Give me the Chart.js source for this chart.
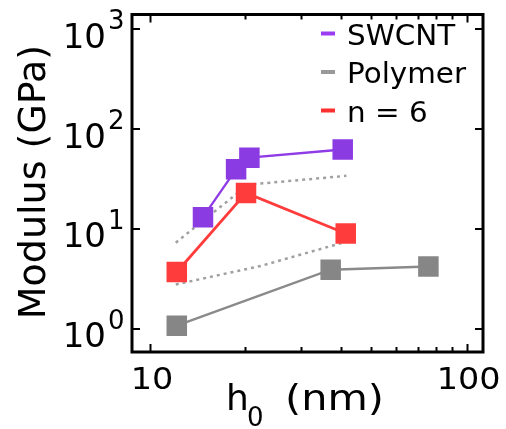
<!DOCTYPE html>
<html>
<head>
<meta charset="utf-8">
<script src="https://cdn.jsdelivr.net/npm/chart.js@4/dist/chart.umd.min.js"></script>
<style>
  html, body { margin: 0; padding: 0; background: #fff; }
  #wrap { width: 506px; height: 429px; }
</style>
</head>
<body>
<div id="wrap"><canvas id="modulusChart"></canvas></div>
<script>
// thickness h0 (nm) and modulus (GPa)
const swcntH = [14.7, 18.7, 20.6, 40.6];
const swcntE = [13.1, 39.5, 51.6, 62.4];
const polymerH = [12.15, 37.2, 75.7];
const polymerE = [1.07, 3.9, 4.2];
const n6H = [12.15, 20.1, 41.5];
const n6E = [3.69, 22.9, 8.98];
// dotted guide curves
const upperGuideH = [12.06, 20.4, 41.7];
const upperGuideE = [7.27, 27.7, 34.0];
const lowerGuideH = [12.06, 22.4, 40.6];
const lowerGuideE = [2.77, 4.25, 7.26];

const xTicks = [10, 20, 30, 40, 50, 60, 70, 80, 90, 100];
const xTickLabels = { 10: '10', 100: '100' };
const yTicks = [1, 10, 100, 1000];
const yTickExp = ['0', '1', '2', '3'];

const legendItems = [
  { text: 'SWCNT', color: '#9b3cf0' },
  { text: 'Polymer', color: '#999999' },
  { text: 'n = 6', color: '#ff2f2f' }
];

const toPoints = (xs, ys) => xs.map((x, i) => ({ x: x, y: ys[i] }));

const FONT = '"DejaVu Sans", sans-serif';

function drawText(ctx, text, x, y, size, sx) {
  ctx.save();
  ctx.translate(x, y);
  ctx.scale(sx || 1, 1);
  ctx.font = size + 'px ' + FONT;
  ctx.fillText(text, 0, 0);
  ctx.restore();
}

// frame, inward ticks, labels, titles and legend
const framePlugin = {
  id: 'framePlugin',
  afterDraw(chart) {
    const ctx = chart.ctx;
    const a = chart.chartArea;
    const xs = chart.scales.x;
    const ys = chart.scales.y;
    ctx.save();
    ctx.strokeStyle = '#000';
    ctx.fillStyle = '#000';
    ctx.lineWidth = 2;
    ctx.beginPath();
    xTicks.forEach(v => {
      const px = Math.round(xs.getPixelForValue(v)) + 0.5;
      const len = xTickLabels[v] ? 8 : 5;
      ctx.moveTo(px, a.bottom); ctx.lineTo(px, a.bottom - len);
      ctx.moveTo(px, a.top); ctx.lineTo(px, a.top + len);
    });
    yTicks.forEach(v => {
      const py = Math.round(ys.getPixelForValue(v));
      ctx.moveTo(a.left, py); ctx.lineTo(a.left + 8, py);
      ctx.moveTo(a.right, py); ctx.lineTo(a.right - 8, py);
    });
    ctx.stroke();
    ctx.lineWidth = 3;
    ctx.strokeRect(a.left, a.top, a.right - a.left, a.bottom - a.top);

    // y tick labels 10^n
    ctx.textBaseline = 'alphabetic';
    yTicks.forEach((v, i) => {
      const py = ys.getPixelForValue(v);
      ctx.textAlign = 'right';
      drawText(ctx, '10', 106, py + 18.5, 34, 1);
      ctx.textAlign = 'left';
      drawText(ctx, yTickExp[i], 108, py, 26, 1);
    });

    // x tick labels
    ctx.textAlign = 'center';
    xTicks.forEach(v => {
      if (!xTickLabels[v]) return;
      const px = xs.getPixelForValue(v);
      drawText(ctx, xTickLabels[v], px + 2, 389, 31, 1.08);
    });

    // x title
    ctx.textAlign = 'left';
    drawText(ctx, 'h', 226, 410, 36, 1);
    drawText(ctx, '0', 247, 426, 26, 1);
    drawText(ctx, '(nm)', 285, 410, 36, 1.15);

    // y title
    ctx.save();
    ctx.translate(45, 182);
    ctx.rotate(-Math.PI / 2);
    ctx.textAlign = 'center';
    drawText(ctx, 'Modulus (GPa)', 0, 0, 38, 1);
    ctx.restore();

    // legend
    legendItems.forEach((item, i) => {
      const cy = 33.5 + i * 38.5;
      ctx.fillStyle = item.color;
      ctx.fillRect(321, cy - 2, 14, 4);
      ctx.fillStyle = '#000';
      ctx.textAlign = 'left';
      drawText(ctx, item.text, 347, cy + 11, 28, 1.05);
    });
    ctx.restore();
  }
};

const markerOpts = { pointStyle: 'rect', pointRadius: 14.5, pointHoverRadius: 14.5, pointBorderWidth: 0 };

new Chart(document.getElementById('modulusChart'), {
  type: 'scatter',
  data: {
    datasets: [
      Object.assign({
        label: 'SWCNT',
        data: toPoints(swcntH, swcntE),
        showLine: true,
        borderColor: '#8f3ce6',
        backgroundColor: '#8b3be2',
        borderWidth: 2.3,
        order: 1
      }, markerOpts),
      Object.assign({
        label: 'n = 6',
        data: toPoints(n6H, n6E),
        showLine: true,
        borderColor: '#ff3b3b',
        backgroundColor: '#ff3c3c',
        borderWidth: 2.8,
        order: 2
      }, markerOpts),
      Object.assign({
        label: 'Polymer',
        data: toPoints(polymerH, polymerE),
        showLine: true,
        borderColor: '#8a8a8a',
        backgroundColor: '#868686',
        borderWidth: 2.5,
        order: 3
      }, markerOpts),
      {
        label: 'guide upper',
        data: toPoints(upperGuideH, upperGuideE),
        showLine: true,
        borderColor: '#a0a0a0',
        borderWidth: 2.5,
        borderDash: [3, 4],
        pointRadius: 0,
        order: 10
      },
      {
        label: 'guide lower',
        data: toPoints(lowerGuideH, lowerGuideE),
        showLine: true,
        borderColor: '#a0a0a0',
        borderWidth: 2.5,
        borderDash: [3, 4],
        pointRadius: 0,
        order: 11
      }
    ]
  },
  options: {
    responsive: true,
    maintainAspectRatio: false,
    animation: false,
    layout: { padding: { left: 132, right: 23, top: 10, bottom: 77 } },
    plugins: {
      legend: { display: false },
      tooltip: { enabled: false }
    },
    scales: {
      x: {
        type: 'logarithmic',
        display: false,
        min: 8.773,
        max: 112.6
      },
      y: {
        type: 'logarithmic',
        display: false,
        min: 0.583,
        max: 1406
      }
    }
  },
  plugins: [framePlugin]
});
</script>
</body>
</html>
